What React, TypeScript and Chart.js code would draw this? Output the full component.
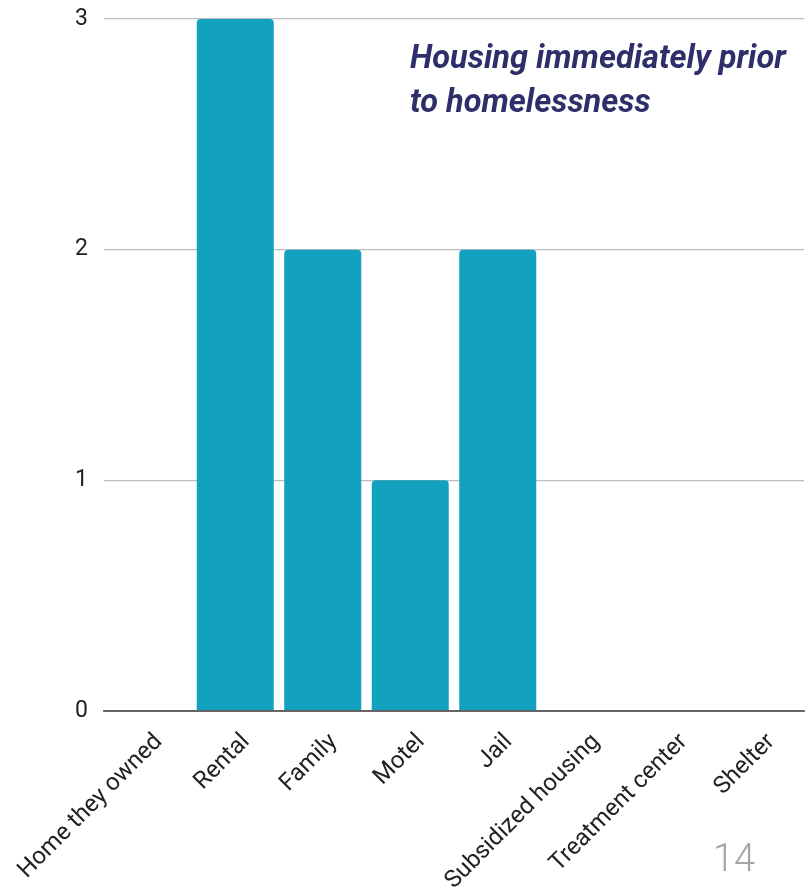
import React, { useEffect, useRef } from "react";
import { Chart, registerables } from "chart.js";

Chart.register(...registerables);

const categories: string[] = [
  "Home they owned",
  "Rental",
  "Family",
  "Motel",
  "Jail",
  "Subsidized housing",
  "Treatment center",
  "Shelter",
];
const counts: number[] = [0, 3, 2, 1, 2, 0, 0, 0];
const yTicks: number[] = [0, 1, 2, 3];
const titleLines: string[] = ["Housing immediately prior", "to homelessness"];
const pageNumber = "14";

const W = 807;
const H = 892;

export default function App() {
  const ref = useRef<HTMLCanvasElement | null>(null);

  useEffect(() => {
    if (!ref.current) return;
    const chart = new Chart(ref.current, {
      type: "bar",
      data: {
        labels: categories,
        datasets: [
          {
            data: counts,
            backgroundColor: "#12a1be",
            borderRadius: { topLeft: 4, topRight: 4, bottomLeft: 0, bottomRight: 0 },
            borderSkipped: "bottom",
            categoryPercentage: 1,
            barPercentage: 0.88,
          },
        ],
      },
      options: {
        responsive: false,
        animation: false,
        layout: { padding: { top: 19, right: 3, left: 0, bottom: 0 } },
        plugins: {
          legend: { display: false },
          tooltip: { enabled: false },
        },
        scales: {
          x: {
            grid: { display: false, drawTicks: false },
            border: { display: true, color: "#5f5f5f", width: 1.8 },
            ticks: {
              color: "#222222",
              font: { family: "Roboto", size: 24 },
              maxRotation: 45,
              minRotation: 45,
              autoSkip: false,
              padding: 17,
              labelOffset: 11,
            },
            afterFit: (scale: any) => {
              scale.height = 181;
              scale.paddingLeft = 0;
              scale.paddingRight = 0;
            },
          },
          y: {
            min: 0,
            max: 3,
            afterBuildTicks: (scale: any) => {
              scale.ticks = yTicks.map((v) => ({ value: v }));
            },
            grid: {
              color: (ctx: any) => (ctx.tick && ctx.tick.value === 0 ? "#5f5f5f" : "#bdbdbd"),
              lineWidth: (ctx: any) => (ctx.tick && ctx.tick.value === 0 ? 1.8 : 1.2),
              drawTicks: false,
            },
            border: { display: false },
            ticks: {
              color: "#222222",
              font: { family: "Roboto", size: 23 },
              padding: 16,
              callback: (v: any) => String(v),
            },
            afterFit: (scale: any) => {
              scale.width = 104;
              scale.paddingTop = 0;
              scale.paddingBottom = 0;
            },
          },
        },
      },
    });
    return () => chart.destroy();
  }, []);

  return (
    <div
      style={{
        position: "absolute",
        left: 0,
        top: 0,
        width: W,
        height: H,
        background: "#ffffff",
        overflow: "hidden",
      }}
    >
      <canvas ref={ref} width={W} height={H} style={{ display: "block" }} />
      <div
        style={{
          position: "absolute",
          left: 410,
          top: 35,
          fontFamily: "Roboto",
          fontStyle: "italic",
          fontWeight: 700,
          fontSize: 32.5,
          lineHeight: "44px",
          color: "#2e2e6b",
          whiteSpace: "nowrap",
        }}
      >
        {titleLines.map((t) => (
          <div key={t}>{t}</div>
        ))}
      </div>
      <div
        style={{
          position: "absolute",
          left: 713,
          top: 835,
          fontFamily: "Roboto",
          fontWeight: 300,
          fontSize: 38,
          lineHeight: "46px",
          color: "#a6a6a6",
        }}
      >
        {pageNumber}
      </div>
    </div>
  );
}
